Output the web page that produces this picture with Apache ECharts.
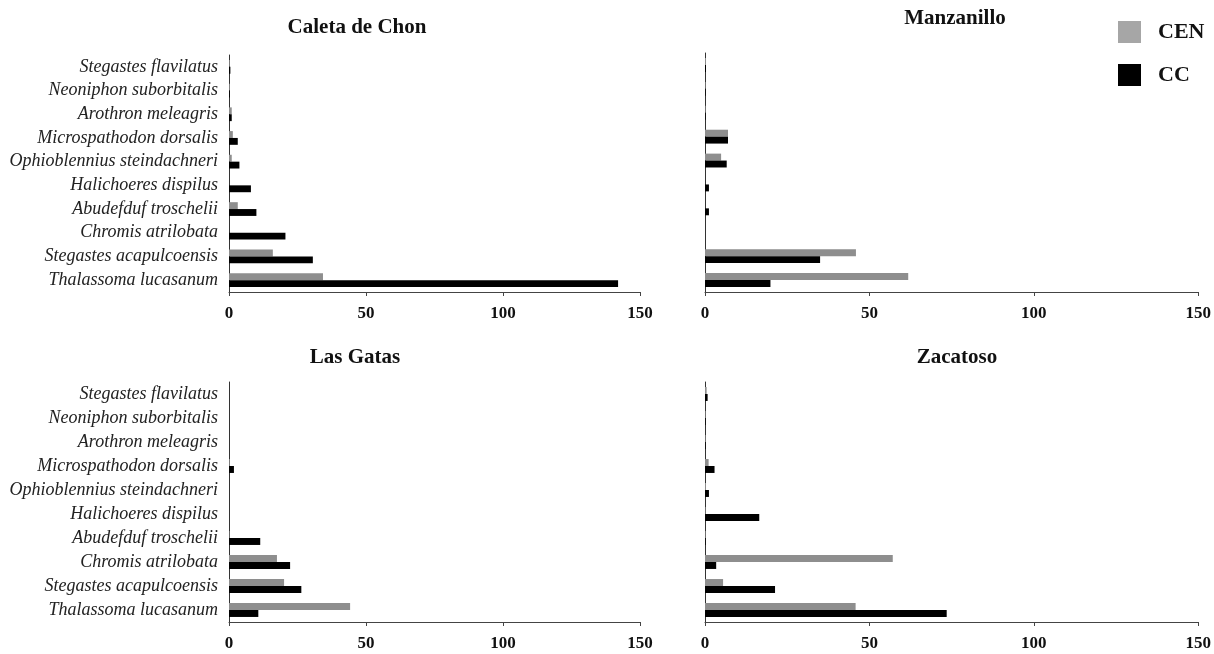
<!DOCTYPE html>
<html>
<head>
<meta charset="utf-8">
<script src="https://cdn.jsdelivr.net/npm/echarts@6/dist/echarts.min.js"></script>
<style>html,body{margin:0;padding:0;background:#fff}#c{width:1214px;height:654px}</style>
</head>
<body>
<div id="c"></div>
<script>
// categories listed bottom to top
const categories = ['Thalassoma lucasanum','Stegastes acapulcoensis','Chromis atrilobata','Abudefduf troschelii','Halichoeres dispilus','Ophioblennius steindachneri','Microspathodon dorsalis','Arothron meleagris','Neoniphon suborbitalis','Stegastes flavilatus'];
const sites = ['Caleta de Chon','Manzanillo','Las Gatas','Zacatoso'];
const xTicks = [0, 50, 100, 150];

const caletaCEN = [34.3, 16, 0, 3.2, 0, 1, 1.4, 1, 0.3, 0.3];
const caletaCC  = [142, 30.6, 20.6, 10, 8, 3.8, 3.2, 1, 0.3, 0.5];
const manzCEN   = [61.8, 45.9, 0, 0, 0, 4.9, 7, 0.2, 0.2, 0.3];
const manzCC    = [19.9, 35, 0, 1.2, 1.2, 6.6, 7, 0.2, 0.2, 0.3];
const gatasCEN  = [44.2, 20.1, 17.5, 0.2, 0, 0, 0.3, 0, 0, 0];
const gatasCC   = [10.7, 26.4, 22.3, 11.4, 0, 0, 1.8, 0, 0, 0];
const zacaCEN   = [45.8, 5.5, 57.1, 0.2, 0.2, 0.3, 1.1, 0.2, 0.2, 0.5];
const zacaCC    = [73.5, 21.3, 3.4, 0.2, 16.5, 1.2, 2.9, 0.2, 0.2, 0.8];

const cenSets = [caletaCEN, manzCEN, gatasCEN, zacaCEN];
const ccSets  = [caletaCC, manzCC, gatasCC, zacaCC];

const grids = [
  {left: 229, top: 55, width: 411, height: 237},
  {left: 705, top: 53, width: 494, height: 239},
  {left: 229, top: 382, width: 411, height: 240},
  {left: 705, top: 382, width: 494, height: 240}
];
const titlePos = [[357, 28], [955, 19], [355, 358], [957, 358]];

const serif = 'Liberation Serif';
const cenColor = '#8e8e8e';
const ccColor = '#000000';

const xAxes = [], yAxes = [], series = [], graphics = [];
for (let i = 0; i < 4; i++) {
  xAxes.push({
    type: 'value', gridIndex: i, min: 0, max: 150, interval: 50,
    axisLine: {show: true, lineStyle: {color: '#444', width: 1}},
    axisTick: {show: true, length: 4, lineStyle: {color: '#444'}},
    splitLine: {show: false},
    axisLabel: {fontFamily: serif, fontWeight: 'bold', fontSize: 17, color: '#111', margin: 13,
      formatter: v => xTicks.indexOf(v) >= 0 ? String(v) : ''}
  });
  yAxes.push({
    type: 'category', gridIndex: i, data: categories,
    axisLine: {show: true, lineStyle: {color: '#333', width: 1}},
    axisTick: {show: false},
    axisLabel: {show: i % 2 === 0, fontFamily: serif, fontStyle: 'italic', fontSize: 18, color: '#222', margin: 11}
  });
  series.push({
    name: 'CEN', type: 'bar', xAxisIndex: i, yAxisIndex: i, data: cenSets[i],
    itemStyle: {color: cenColor}, barGap: '0%', barCategoryGap: '42%', silent: true
  });
  series.push({
    name: 'CC', type: 'bar', xAxisIndex: i, yAxisIndex: i, data: ccSets[i],
    itemStyle: {color: ccColor}, barGap: '0%', barCategoryGap: '42%', silent: true
  });
  graphics.push({
    type: 'text', x: titlePos[i][0], y: titlePos[i][1],
    style: {text: sites[i], font: 'bold 21px "Liberation Serif"', fill: '#111', textAlign: 'center', textVerticalAlign: 'middle'}
  });
}

const chart = echarts.init(document.getElementById('c'), null, {renderer: 'canvas'});
chart.setOption({
  animation: false,
  backgroundColor: '#fff',
  grid: grids,
  xAxis: xAxes,
  yAxis: yAxes,
  series: series,
  graphic: graphics,
  legend: {
    orient: 'vertical', left: 1118, top: 21, padding: 0, itemWidth: 23, itemHeight: 22, itemGap: 21,
    selectedMode: false, icon: 'rect',
    data: [{name: 'CEN', itemStyle: {color: '#a6a6a6'}}, {name: 'CC', itemStyle: {color: '#000'}}],
    textStyle: {fontFamily: serif, fontWeight: 'bold', fontSize: 22, color: '#111', padding: [0, 0, 0, 12]}
  }
});
</script>
</body>
</html>
